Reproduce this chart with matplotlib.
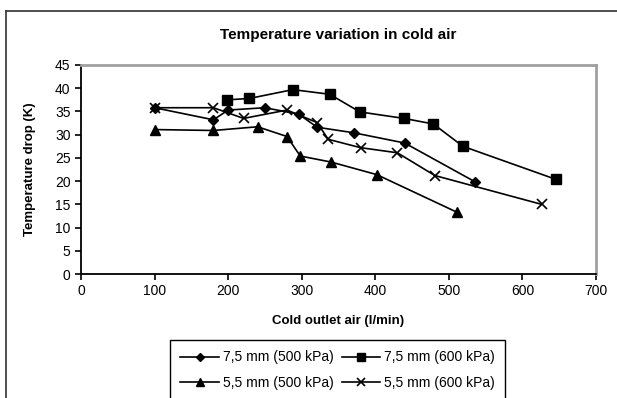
import matplotlib
matplotlib.use("Agg")
import matplotlib.pyplot as plt
from matplotlib.lines import Line2D

plt.rcParams['font.family'] = ['Liberation Sans', 'DejaVu Sans']

# cold outlet air (l/min) and temperature drop (K)
x_75_500 = [100, 180, 200, 250, 296, 321, 371, 440, 535]
y_75_500 = [35.8, 33.2, 35.3, 35.8, 34.4, 31.6, 30.4, 28.2, 19.9]

x_75_600 = [199, 229, 288, 338, 379, 439, 479, 519, 645]
y_75_600 = [37.5, 37.8, 39.7, 38.7, 34.9, 33.5, 32.3, 27.5, 20.4]

x_55_500 = [100, 180, 240, 280, 298, 340, 402, 511]
y_55_500 = [31.1, 30.9, 31.7, 29.6, 25.4, 24.1, 21.4, 13.3]

x_55_600 = [100, 180, 221, 280, 321, 336, 380, 430, 481, 626]
y_55_600 = [35.8, 35.8, 33.5, 35.3, 32.6, 29.0, 27.2, 26.1, 21.2, 15.0]

labels = ["7,5 mm (500 kPa)", "7,5 mm (600 kPa)",
          "5,5 mm (500 kPa)", "5,5 mm (600 kPa)"]
xticks = [0, 100, 200, 300, 400, 500, 600, 700]
yticks = [0, 5, 10, 15, 20, 25, 30, 35, 40, 45]

fig = plt.figure(figsize=(6.17, 3.98), dpi=100)
ax = fig.add_axes([81 / 617, 1 - 274 / 398, 515 / 617, 209 / 398])

# outer chart frame (left and top edges only are visible)
fig.add_artist(Line2D([6 / 617, 6 / 617], [0, 1 - 11 / 398], transform=fig.transFigure,
                      color="#404040", lw=1.3))
fig.add_artist(Line2D([6 / 617, 1], [1 - 11 / 398, 1 - 11 / 398], transform=fig.transFigure,
                      color="#404040", lw=1.3))

h1, = ax.plot(x_75_500, y_75_500, color="black", lw=1.2, marker="D", ms=5.5)
h2, = ax.plot(x_75_600, y_75_600, color="black", lw=1.2, marker="s", ms=7)
h3, = ax.plot(x_55_500, y_55_500, color="black", lw=1.2, marker="^", ms=7.5)
h4, = ax.plot(x_55_600, y_55_600, color="black", lw=1.2, marker="x", ms=7, mew=1.2)

ax.set_xlim(0, 700)
ax.set_ylim(0, 45)
ax.set_xticks(xticks)
ax.set_yticks(yticks)
ax.tick_params(direction="out", length=4, width=1.2, labelsize=10, color="black")

for s in ["top", "right"]:
    ax.spines[s].set_color("#a0a0a0")
    ax.spines[s].set_linewidth(2)
for s in ["left", "bottom"]:
    ax.spines[s].set_color("black")
    ax.spines[s].set_linewidth(1.3)

ax.set_title("Temperature variation in cold air", fontsize=11, fontweight="bold", pad=19)
ax.set_xlabel("Cold outlet air (l/min)", fontsize=9.5, fontweight="bold", labelpad=12)
ax.set_ylabel("Temperature drop (K)", fontsize=9.5, fontweight="bold", labelpad=14)

# legend fills column-wise, so order handles to get the reference rows
leg = fig.legend([h1, h3, h2, h4], [labels[0], labels[2], labels[1], labels[3]],
                 ncol=2, loc="upper left",
                 bbox_to_anchor=(170 / 617, 1 - 340 / 398), fontsize=10,
                 frameon=True, fancybox=False, edgecolor="black", framealpha=1,
                 handlelength=2.75, handletextpad=0.3, columnspacing=0.6,
                 labelspacing=0.85, borderpad=0.75, borderaxespad=0,
                 markerscale=0.8)
leg.get_frame().set_linewidth(1.0)

fig.savefig("out.png", dpi=100)
